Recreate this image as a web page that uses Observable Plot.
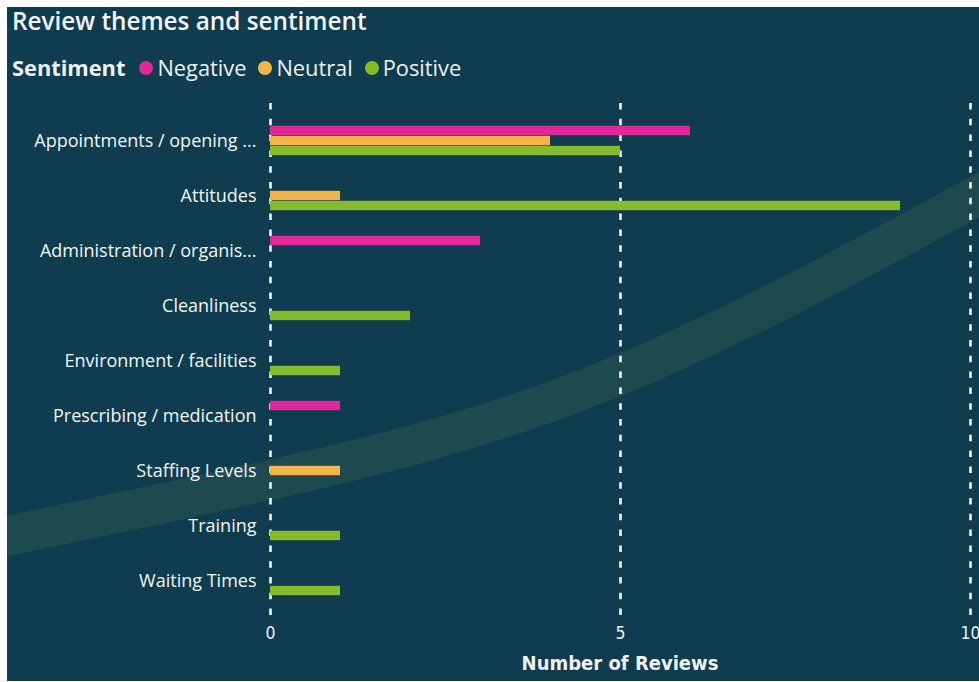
<!DOCTYPE html>
<html>
<head>
<meta charset="utf-8">
<script src="https://cdn.jsdelivr.net/npm/d3@7"></script>
<script src="https://cdn.jsdelivr.net/npm/@observablehq/plot@0.6"></script>
<style>
  html, body { margin: 0; padding: 0; background: #ffffff; overflow: hidden; width: 979px; height: 682px; }
  #panel { position: absolute; left: 7px; top: 7px; width: 972px; height: 674px; background: #0f3c4f; }
  #deco { position: absolute; left: 0; top: 0; overflow: hidden; }
  #title { position: absolute; left: 5px; top: 2px; line-height: 34px; height: 34px; margin-top: -5px; padding-top: 0; font-family: "Open Sans", sans-serif; font-weight: 600; font-size: 24.3px; color: #f4f6f7; white-space: nowrap; }
  #legend { position: absolute; left: 5px; top: 46px; font-family: "Open Sans", sans-serif; font-size: 21.8px; color: #eef2f3; white-space: nowrap; display: flex; align-items: center; }
  #legend .lt { font-weight: 700; margin-right: 14px; }
  #legend .item { display: flex; align-items: center; margin-right: 12px; }
  #legend .dot { width: 14px; height: 14px; border-radius: 50%; margin-right: 4px; }
  #chart { position: absolute; left: 0; top: 83px; }
  #chart svg { max-width: none; overflow: visible; }
  #xtitle { position: absolute; left: 263px; width: 700px; top: 644px; text-align: center; font-family: "DejaVu Sans Condensed", "DejaVu Sans", sans-serif; font-weight: 700; font-size: 20px; color: #eef2f3; }
</style>
</head>
<body>
<div id="panel">
  <svg id="deco" width="972" height="674"></svg>
  <div id="title">Review themes and sentiment</div>
  <div id="legend"></div>
  <div id="chart"></div>
  <div id="xtitle">Number of Reviews</div>
</div>
<script>
// ---- data ----
const categories = [
  "Appointments / opening ...",
  "Attitudes",
  "Administration / organis...",
  "Cleanliness",
  "Environment / facilities",
  "Prescribing / medication",
  "Staffing Levels",
  "Training",
  "Waiting Times"
];
const negative = [6, 0, 3, 0, 0, 1, 0, 0, 0];
const neutral  = [4, 1, 0, 0, 0, 0, 1, 0, 0];
const positive = [5, 9, 0, 2, 1, 0, 0, 1, 1];
const sentiments = ["Negative", "Neutral", "Positive"];
const colors = ["#e2279a", "#f4b44c", "#86bc2c"];
const xTicks = [0, 5, 10];

// ---- decorative background band (panel coordinates) ----
const band = [[-10, 531], [249, 476], [593, 376], [990, 178]];
d3.select("#deco").append("path")
  .attr("d", d3.line().curve(d3.curveNatural)(band))
  .attr("fill", "none")
  .attr("stroke", "#1c4a4e")
  .attr("stroke-width", 40);

// ---- legend ----
const legend = d3.select("#legend");
legend.append("span").attr("class", "lt").text("Sentiment");
sentiments.forEach((s, i) => {
  const it = legend.append("span").attr("class", "item");
  it.append("span").attr("class", "dot").style("background", colors[i]);
  it.append("span").text(s);
});

// ---- rows ----
const series = [negative, neutral, positive];
const rows = [];
series.forEach((vals, si) => vals.forEach((v, ci) => {
  if (v > 0) rows.push({category: categories[ci], sentiment: sentiments[si], value: v});
}));

const offsets = {Negative: -10, Neutral: 0, Positive: 10};
const barMarks = sentiments.map((s, i) =>
  Plot.barX(rows.filter(d => d.sentiment === s), {
    x: "value", y: "category", fill: colors[i], dy: offsets[s],
    insetTop: 22.8, insetBottom: 22.8
  })
);

const chart = Plot.plot({
  width: 972,
  height: 591,
  marginLeft: 263,
  marginRight: 9,
  marginTop: 13,
  marginBottom: 64,
  style: {background: "transparent", color: "#eef2f3", fontFamily: "'Open Sans', sans-serif", overflow: "visible"},
  x: {domain: [0, 10], label: null},
  y: {domain: categories, paddingInner: 0, paddingOuter: 0.17, label: null},
  marks: [
    Plot.gridX(xTicks, {stroke: "#ffffff", strokeOpacity: 1, strokeWidth: 2.5, strokeDasharray: "6.5,9.3"}),
    ...barMarks,
    Plot.axisX(xTicks, {tickSize: 0, tickPadding: 9, fontSize: 17.5, fontFamily: "'DejaVu Sans Condensed', 'DejaVu Sans', sans-serif", fill: "#eef2f3", label: null}),
    Plot.axisY({tickSize: 0, tickPadding: 14, fontSize: 18, fill: "#f4f6f7", label: null})
  ]
});
document.getElementById("chart").appendChild(chart);
</script>
</body>
</html>
